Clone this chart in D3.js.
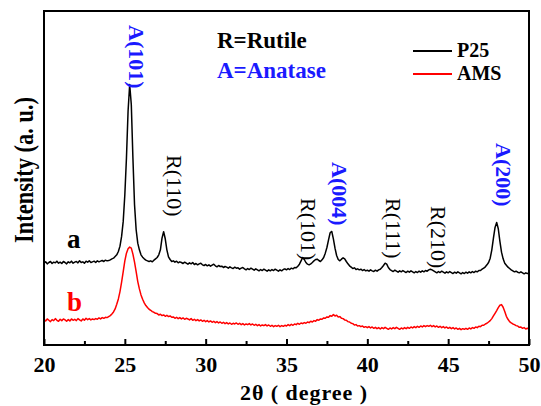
<!DOCTYPE html>
<html>
  <head>
    <meta charset="utf-8">
    <script src="https://d3js.org/d3.v7.min.js"></script>
    <style>
      body { margin: 0; background: #fff; }
      text { font-family: "Liberation Serif", "Times New Roman", serif; }
    </style>
  </head>
  <body>
    <div id="graph"></div>
    <script>

var w = 541;
var h = 406;

// scan grid: 2theta from 20 to 50 deg, 0.1 deg step
var startAngle = 20, stepAngle = 0.1;

// intensities (a.u.), one value per 0.1 deg
var p25 = [
  245, 249, 243, 247, 250, 244, 248, 246, 251, 245,
  248, 244, 250, 247, 243, 249, 246, 251, 245, 248,
  250, 246, 252, 247, 249, 245, 251, 248, 252, 247,
  249, 251, 247, 252, 249, 251, 253, 250, 254, 252,
  253, 255, 258, 260, 265, 270, 280, 296, 325, 370,
  450, 560, 700, 780, 720, 560, 420, 345, 305, 285,
  270, 263, 258, 254, 252, 250, 252, 249, 254, 258,
  262, 270, 285, 320, 339, 318, 285, 264, 256, 250,
  252, 248, 251, 246, 249, 247, 244, 248, 245, 242,
  246, 243, 247, 241, 244, 240, 243, 245, 240, 238,
  241, 237, 240, 236, 239, 242, 237, 234, 238, 235,
  236, 232, 235, 233, 230, 234, 231, 229, 233, 230,
  231, 227, 230, 232, 228, 225, 229, 226, 230, 227,
  224, 228, 225, 222, 226, 223, 227, 224, 221, 225,
  222, 226, 223, 227, 224, 221, 225, 222, 226, 228,
  225, 229, 226, 230, 228, 232, 231, 236, 242, 252,
  262, 256, 247, 242, 240, 243, 247, 252, 256, 257,
  253, 250, 255, 262, 275, 292, 315, 336, 340, 318,
  290, 268, 256, 252, 257, 261, 258, 250, 243, 237,
  233, 229, 231, 226, 228, 225, 227, 223, 226, 222,
  224, 221, 225, 222, 220, 224, 221, 225, 227, 232,
  238, 245, 242, 232, 226, 223, 220, 224, 221, 218,
  222, 219, 223, 220, 217, 221, 218, 222, 219, 216,
  220, 217, 221, 218, 222, 219, 223, 221, 225, 227,
  225, 222, 219, 216, 220, 217, 221, 218, 215, 219,
  216, 220, 217, 214, 218, 215, 219, 216, 213, 217,
  214, 218, 215, 219, 216, 220, 217, 221, 219, 223,
  223, 227, 230, 234, 240, 247, 260, 285, 320, 352,
  367, 348, 310, 278, 258, 245, 239, 233, 229, 225,
  222, 219, 221, 218, 216, 219, 216, 213, 216, 214,
  215
];

var ams = [
  76, 72, 78, 74, 70, 76, 73, 79, 74, 71,
  77, 73, 78, 75, 71, 76, 72, 78, 74, 77,
  73, 79, 75, 72, 78, 74, 80, 76, 79, 75,
  78, 76, 79, 77, 81, 78, 82, 80, 83, 82,
  85, 88, 93, 99, 108, 122, 138, 160, 188, 220,
  252, 275, 288, 293, 290, 272, 248, 220, 190, 168,
  150, 137, 126, 118, 112, 107, 104, 100, 98, 95,
  94, 90, 92, 88, 90, 86, 89, 85, 87, 83,
  84, 80, 83, 79, 82, 78, 81, 77, 80, 78,
  75, 79, 74, 77, 73, 76, 72, 75, 71, 74,
  70, 73, 69, 72, 68, 71, 67, 70, 66, 69,
  65, 68, 64, 67, 63, 66, 62, 65, 63, 66,
  62, 65, 61, 64, 60, 63, 61, 64, 60, 63,
  59, 62, 58, 61, 57, 60, 58, 61, 57, 60,
  56, 59, 55, 58, 56, 59, 55, 58, 56, 59,
  57, 61, 58, 62, 59, 63, 61, 65, 62, 66,
  64, 67, 65, 69, 67, 71, 69, 73, 71, 76,
  74, 78, 77, 81, 80, 84, 83, 88, 86, 91,
  87, 89, 84, 85, 80, 79, 75, 74, 70, 69,
  65, 64, 60, 61, 57, 58, 55, 57, 53, 55,
  52, 55, 51, 54, 50, 53, 49, 52, 48, 52,
  49, 53, 50, 47, 51, 48, 52, 49, 53, 50,
  47, 51, 48, 52, 49, 53, 50, 54, 51, 55,
  52, 56, 53, 57, 54, 58, 55, 58, 56, 59,
  55, 58, 54, 57, 53, 56, 52, 55, 51, 54,
  50, 53, 49, 52, 48, 51, 47, 50, 46, 49,
  47, 50, 47, 51, 48, 52, 50, 54, 52, 56,
  55, 59, 59, 63, 65, 69, 73, 79, 87, 95,
  103, 112, 119, 121, 113, 100, 86, 77, 70, 66,
  63, 61, 58, 57, 53, 54, 50, 52, 48, 50,
  48
];

var xTicks = [20, 25, 30, 35, 40, 45, 50];
var xMinorTicks = [22.5, 27.5, 32.5, 37.5, 42.5, 47.5];

// peak labels: name, 2theta of label, top of label
var peakNames = ["A(101)", "R(110)", "R(101)", "A(004)", "R(111)", "R(210)", "A(200)"];
var peakAngles = [25.35, 27.7, 35.96, 37.9, 41.2, 44.0, 48.0];
var peakLabelTop = [25, 155, 198, 162, 198, 206, 143];

var seriesNames = ["P25", "AMS"];
var seriesColors = ["#000000", "#ff0000"];

var svg = d3.select("#graph")
  .append("svg")
  .attr("width", w)
  .attr("height", h);

svg.append("rect").attr("width", w).attr("height", h).attr("fill", "#fff");

var plotLeft = 44, plotRight = 529, plotTop = 11, plotBottom = 345;

var xScale = d3.scaleLinear().domain([20, 50]).range([plotLeft, plotRight]);
var yScale = d3.scaleLinear().domain([0, 1000]).range([plotBottom, plotTop]);

function toPoints(vals) {
  return vals.map(function(v, i) { return [startAngle + i * stepAngle, v]; });
}

var line = d3.line()
  .x(function(d) { return xScale(d[0]); })
  .y(function(d) { return yScale(d[1]); });

// curves
[p25, ams].forEach(function(vals, i) {
  svg.append("path")
    .datum(toPoints(vals))
    .attr("d", line)
    .attr("fill", "none")
    .attr("stroke", seriesColors[i])
    .attr("stroke-width", 1.5)
    .attr("stroke-linejoin", "round");
});

// x axis, ticks pointing inside
var xAxis = svg.append("g")
  .attr("transform", "translate(0," + plotBottom + ")")
  .call(d3.axisBottom(xScale).tickValues(xTicks).tickSizeInner(-6).tickSizeOuter(0).tickPadding(11));
xAxis.select(".domain").remove();
xAxis.selectAll(".tick line").attr("stroke", "#000").attr("stroke-width", 2);
xAxis.selectAll(".tick text")
  .attr("font-family", "Liberation Serif, Times New Roman, serif")
  .attr("font-size", 22)
  .attr("font-weight", "bold")
  .attr("fill", "#000");

var xMinor = svg.append("g")
  .attr("transform", "translate(0," + plotBottom + ")")
  .call(d3.axisBottom(xScale).tickValues(xMinorTicks).tickSizeInner(-4).tickSizeOuter(0).tickFormat(""));
xMinor.select(".domain").remove();
xMinor.selectAll(".tick line").attr("stroke", "#000").attr("stroke-width", 2);

// frame
svg.append("rect")
  .attr("x", plotLeft).attr("y", plotTop)
  .attr("width", plotRight - plotLeft).attr("height", plotBottom - plotTop)
  .attr("fill", "none")
  .attr("stroke", "#000")
  .attr("stroke-width", 2);

// axis titles
svg.append("text")
  .attr("x", 240).attr("y", 400)
  .attr("font-size", 22).attr("font-weight", "bold")
  .attr("textLength", 127).attr("lengthAdjust", "spacing")
  .text("2\u03b8 ( degree )");

svg.append("text")
  .attr("transform", "translate(33,170) rotate(-90)")
  .attr("text-anchor", "middle")
  .attr("font-size", 28).attr("font-weight", "bold")
  .attr("textLength", 146).attr("lengthAdjust", "spacingAndGlyphs")
  .text("Intensity (a. u.)");

// peak labels (rotated, read top to bottom)
peakNames.forEach(function(name, i) {
  var anatase = name.charAt(0) === "A";
  svg.append("text")
    .attr("transform", "translate(" + (xScale(peakAngles[i]) - 1) + "," + peakLabelTop[i] + ") rotate(90)")
    .attr("font-size", 22)
    .attr("font-weight", anatase ? "bold" : "normal")
    .attr("fill", anatase ? "#1a1aff" : "#000")
    .text(name);
});

// phase key
svg.append("text").attr("x", 217).attr("y", 48)
  .attr("font-size", 23).attr("font-weight", "bold").text("R=Rutile");
svg.append("text").attr("x", 217).attr("y", 78)
  .attr("font-size", 23).attr("font-weight", "bold").attr("fill", "#1a1aff").text("A=Anatase");

// curve letters
svg.append("text").attr("x", 67).attr("y", 248)
  .attr("font-size", 27).attr("font-weight", "bold").text("a");
svg.append("text").attr("x", 67).attr("y", 311)
  .attr("font-size", 27).attr("font-weight", "bold").attr("fill", "#ff0000").text("b");

// legend
seriesNames.forEach(function(name, i) {
  var y = 51 + i * 23;
  svg.append("line")
    .attr("x1", 413).attr("x2", 452)
    .attr("y1", y).attr("y2", y)
    .attr("stroke", seriesColors[i]).attr("stroke-width", 2);
  svg.append("text")
    .attr("x", 457).attr("y", y + 6)
    .attr("font-size", 20).attr("font-weight", "bold")
    .text(name);
});

    </script>
  </body>
</html>
